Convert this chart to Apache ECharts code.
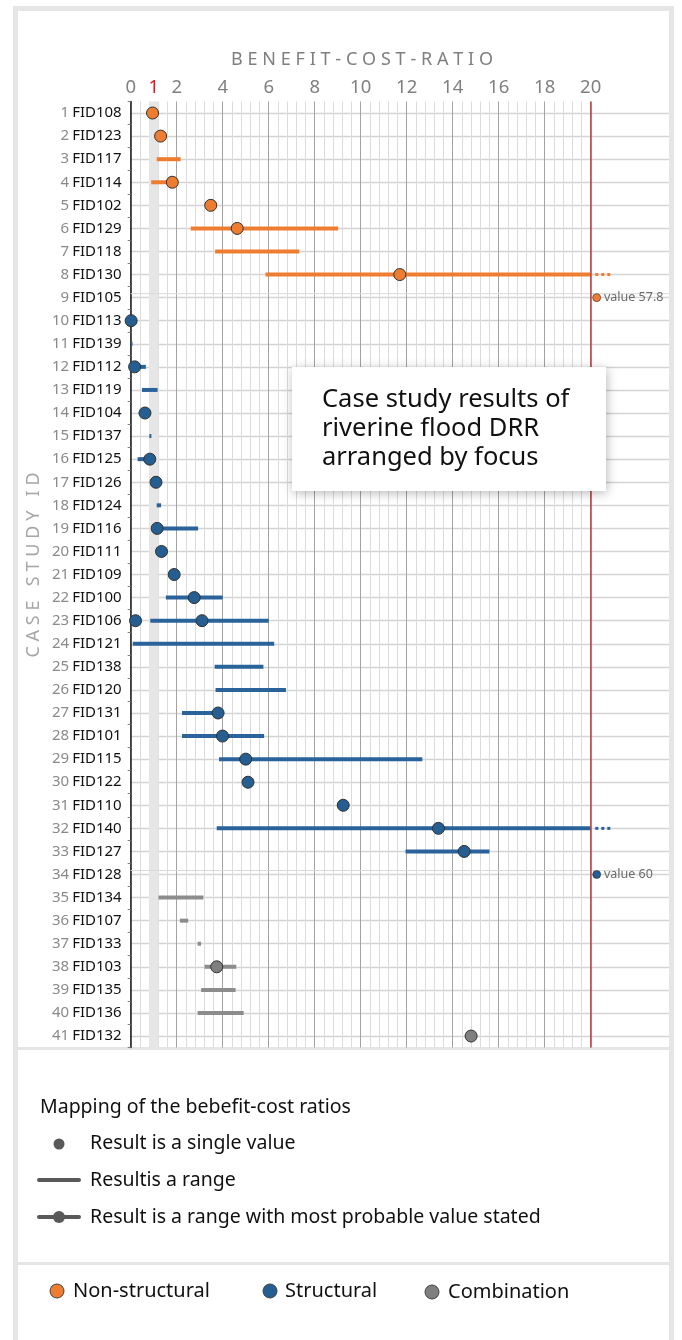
<!DOCTYPE html>
<html>
<head>
<meta charset="utf-8">
<script src="https://cdn.jsdelivr.net/npm/echarts@6.0.0/dist/echarts.min.js"></script>
<style>
html,body{margin:0;padding:0;background:#fff;}
#chart{width:682px;height:1340px;}
</style>
</head>
<body>
<div id="chart"></div>
<script>
// ---------------- DATA ----------------
const categories = ['FID108','FID123','FID117','FID114','FID102','FID129','FID118','FID130','FID105',
  'FID113','FID139','FID112','FID119','FID104','FID137','FID125','FID126','FID124','FID116','FID111',
  'FID109','FID100','FID106','FID121','FID138','FID120','FID131','FID101','FID115','FID122','FID110',
  'FID140','FID127','FID128','FID134','FID107','FID133','FID103','FID135','FID136','FID132'];
// N = Non-structural, S = Structural, C = Combination
const focus = ['N','N','N','N','N','N','N','N','N',
  'S','S','S','S','S','S','S','S','S','S','S','S','S','S','S','S','S','S','S','S','S','S','S','S','S',
  'C','C','C','C','C','C','C'];
const rangeLow  = [null,null,1.13,0.89,null,2.61,3.67,5.86,null,
  null,0.02,0.10,0.49,null,0.81,0.30,null,1.13,1.15,null,null,1.53,0.85,0.09,3.65,3.69,2.23,2.23,3.84,null,null,3.74,11.95,null,
  1.21,2.14,2.91,3.21,3.06,2.91,null];
const rangeHigh = [null,null,2.17,1.81,null,9.02,7.33,20,null,
  null,0.08,0.66,1.17,null,0.90,0.85,null,1.32,2.93,null,null,4.00,6.00,6.24,5.77,6.75,3.80,5.80,12.68,null,null,20,15.60,null,
  3.16,2.50,3.06,4.59,4.56,4.91,null];
const bestValue = [0.95,1.30,null,1.81,3.48,4.63,null,11.70,57.8,
  0.02,null,0.17,null,0.62,null,0.83,1.10,null,1.15,1.34,1.89,2.76,3.10,null,null,null,3.80,3.99,5.00,5.10,9.24,13.38,14.50,60,
  null,null,null,3.74,null,null,14.80];
const extraValue = {FID106: 0.21};
const openEndedRows = ['FID130','FID140'];
const xTicks = [0,2,4,6,8,10,12,14,16,18,20];
const axisCap = 20;
const breakEvenBand = [0.8, 1.2];
const focusNames = {N:'Non-structural', S:'Structural', C:'Combination'};

// ---------------- STYLE ----------------
const dotColor  = {N:'#ED7D31', S:'#255E91', C:'#7F7F7F'};
const lineColor = {N:'#ED7D31', S:'#2A629A', C:'#8C8C8C'};
const FONT = 'Noto Sans';
const pxPerUnit = 23;
const plotLeft = 130.7, plotTop = 101.5, plotRight = 669, rowH = 23.075;
const plotH = rowH * categories.length;
const xMaxFull = (plotRight - plotLeft) / pxPerUnit;
const offscaleX = axisCap + 0.26;
const spaced = (s, sp) => s.split('').join(sp);
const noShadow = {shadowBlur:0, shadowColor:'rgba(0,0,0,0)', shadowOffsetX:0, shadowOffsetY:0};

// build series data
const rangeData = [];
const pointData = [];
const offData = [];
const breakRows = [];
categories.forEach((c, i) => {
  const t = focus[i];
  if (rangeLow[i] !== null) {
    rangeData.push([rangeLow[i], rangeHigh[i], i, t, openEndedRows.includes(c) ? 1 : 0]);
  }
  if (bestValue[i] !== null) {
    if (bestValue[i] > axisCap) { offData.push([offscaleX, i, t, bestValue[i]]); breakRows.push([0, i]); }
    else pointData.push([bestValue[i], i, t]);
  }
  if (extraValue[c] !== undefined) pointData.push([extraValue[c], i - 0.12, t]);
});

const chart = echarts.init(document.getElementById('chart'), null, {renderer:'canvas'});

const txt = (x, y, text, size, color, extra) => Object.assign({type:'text', x, y, silent:true,
  style:Object.assign({text, fill:color, fontSize:size, fontFamily:FONT, verticalAlign:'middle'}, noShadow)}, extra || {});

const option = {
  animation: false,
  textStyle: {fontFamily: FONT},
  grid: [
    {left: plotLeft, top: plotTop, width: plotRight - plotLeft, height: plotH},
    {left: plotLeft, top: plotTop, width: axisCap * pxPerUnit, height: plotH},
    {left: plotLeft, top: plotTop + rowH/2, width: plotRight - plotLeft, height: plotH - rowH}
  ],
  xAxis: [
    {gridIndex:0, type:'value', min:0, max:xMaxFull, show:false},
    {gridIndex:1, type:'value', min:0, max:axisCap, interval:2, position:'top',
      axisLine:{show:false}, axisTick:{show:false},
      axisLabel:{color:'#808080', fontSize:18.5, margin:4,
        formatter: v => xTicks.includes(v) ? String(v) : ''},
      splitLine:{show:true, lineStyle:{color:'#a3a3a3', width:1}},
      minorTick:{show:false, splitNumber:5},
      minorSplitLine:{show:true, lineStyle:{color:'#dcdcdc', width:1}}
    },
    {gridIndex:1, type:'value', min:0, max:axisCap, interval:1, position:'top',
      axisLine:{show:false}, axisTick:{show:false}, splitLine:{show:false},
      axisLabel:{color:'#E8161B', fontSize:18.5, margin:4,
        formatter: v => v === 1 ? '1' : ''}
    },
    {gridIndex:2, type:'value', min:0, max:1, show:false}
  ],
  yAxis: [
    {gridIndex:0, type:'category', data:categories, inverse:true, boundaryGap:true,
      axisLine:{show:true, lineStyle:{color:'#1a1a1a', width:1.5}},
      axisTick:{show:true, length:3, lineStyle:{color:'#7f7f7f'}},
      splitLine:{show:false},
      axisLabel:{margin:9, formatter:(v, i) => '{n|' + (i+1) + '}{f|' + v + '}',
        rich:{n:{color:'#8a8a8a', fontSize:15, fontFamily:FONT, padding:[0,3,0,0]},
              f:{color:'#111', fontSize:15, fontFamily:FONT}}}
    },
    {gridIndex:1, type:'category', data:categories, inverse:true, show:false},
    {gridIndex:2, type:'category', data:categories, inverse:true, boundaryGap:false,
      axisLine:{show:false}, axisTick:{show:false}, axisLabel:{show:false},
      splitLine:{show:true, lineStyle:{color:'#d4d4d4', width:1.3}}}
  ],
  series: [
    {
      type:'scatter', xAxisIndex:0, yAxisIndex:0, data:[], z:-5, silent:true,
      markArea:{silent:true, itemStyle:{color:'#e6e6e6'},
        data:[[{xAxis:breakEvenBand[0]},{xAxis:breakEvenBand[1]}]]}
    },
    {
      // break indicator lines for off-scale rows
      type:'custom', xAxisIndex:0, yAxisIndex:0, z:1, silent:true,
      data: breakRows,
      encode:{x:0, y:1},
      renderItem:(params, api) => {
        const r = breakRows[params.dataIndex];
        const p0 = api.coord([0, r[1]]);
        const p1 = api.coord([xMaxFull, r[1]]);
        return {type:'line', shape:{x1:p0[0], y1:p0[1]-4, x2:p1[0], y2:p1[1]-4},
          style:{stroke:'#dadada', lineWidth:1}};
      }
    },
    {
      name:'ranges', type:'custom', xAxisIndex:0, yAxisIndex:0, z:3,
      data: rangeData,
      encode:{x:[0,1], y:2},
      renderItem:(params, api) => {
        const d = rangeData[params.dataIndex];
        const a = api.coord([d[0], d[2]]);
        const b = api.coord([d[1], d[2]]);
        const children = [{type:'line', shape:{x1:a[0], y1:a[1], x2:b[0], y2:b[1]},
          style:{stroke:lineColor[d[3]], lineWidth:4, lineCap:'butt'}}];
        if (d[4]) {
          const c1 = api.coord([axisCap + 0.2, d[2]]);
          const c2 = api.coord([axisCap + 0.9, d[2]]);
          children.push({type:'line', shape:{x1:c1[0], y1:c1[1], x2:c2[0], y2:c2[1]},
            style:{stroke:lineColor[d[3]], lineWidth:3, lineDash:[3,3]}});
        }
        return {type:'group', children};
      }
    },
    {
      name:'points', type:'scatter', xAxisIndex:0, yAxisIndex:0, z:4,
      symbolSize:12,
      data: pointData,
      itemStyle:{color: p => dotColor[p.data[2]], borderColor:'#303030', borderWidth:1, opacity:1},
      markLine:{silent:true, symbol:'none', label:{show:false},
        lineStyle:{color:'#C8383C', width:1.5, type:'solid'},
        data:[{xAxis:axisCap}]}
    },
    {
      name:'offscale', type:'scatter', xAxisIndex:0, yAxisIndex:0, z:4,
      symbolSize:8,
      data: offData,
      itemStyle:{color: p => dotColor[p.data[2]], borderColor:'#303030', borderWidth:0.6, opacity:1},
      label:{show:true, position:'right', distance:3, color:'#6b6b6b', fontSize:12.5, fontFamily:FONT,
        formatter: p => 'value ' + p.data[3]}
    }
  ],
  graphic: [
    // frame
    {type:'rect', shape:{x:13, y:6, width:5, height:1334}, style:{fill:'#e5e5e5'}, silent:true},
    {type:'rect', shape:{x:669, y:6, width:5, height:1334}, style:{fill:'#e5e5e5'}, silent:true},
    {type:'rect', shape:{x:13, y:6, width:661, height:5}, style:{fill:'#e5e5e5'}, silent:true},
    {type:'rect', shape:{x:18, y:1047, width:651, height:3}, style:{fill:'#e5e5e5'}, silent:true},
    {type:'rect', shape:{x:18, y:1262, width:651, height:3}, style:{fill:'#e5e5e5'}, silent:true},
    // axis titles
    txt(362, 60, spaced('BENEFIT-COST-RATIO','\u2009\u200A'), 18, '#7f7f7f', {style:Object.assign({text:spaced('BENEFIT-COST-RATIO','\u2009\u200A'), fill:'#7f7f7f', fontSize:18, fontFamily:FONT, align:'center', verticalAlign:'middle'}, noShadow)}),
    {type:'text', x:34, y:565, rotation:Math.PI/2, silent:true,
      style:Object.assign({text:spaced('CASE STUDY ID','\u2009\u200A'), fill:'#a6a6a6',
      fontSize:18, fontFamily:FONT, align:'center', verticalAlign:'middle'}, noShadow)},
    // annotation box
    {type:'rect', silent:true, z:50, shape:{x:292, y:367, width:314, height:124},
      style:{fill:'#fff', shadowBlur:10, shadowColor:'rgba(0,0,0,0.28)', shadowOffsetX:1, shadowOffsetY:2}},
    {type:'text', silent:true, z:51, x:322, y:385,
      style:Object.assign({text:'Case study results of\nriverine flood DRR\narranged by focus',
        fill:'#111', fontSize:25.5, lineHeight:29, fontFamily:FONT, verticalAlign:'top'}, noShadow)},
    // mapping legend
    txt(40, 1107, 'Mapping of the bebefit-cost ratios', 19.5, '#111'),
    {type:'circle', shape:{cx:59, cy:1144, r:5.5}, style:{fill:'#595959'}},
    txt(90, 1143, 'Result is a single value', 19.5, '#111'),
    {type:'line', shape:{x1:39, y1:1180, x2:79, y2:1180}, style:{stroke:'#595959', lineWidth:4, lineCap:'round'}},
    txt(90, 1180, 'Resultis a range', 19.5, '#111'),
    {type:'line', shape:{x1:39, y1:1217, x2:79, y2:1217}, style:{stroke:'#595959', lineWidth:4, lineCap:'round'}},
    {type:'circle', shape:{cx:59, cy:1217, r:6}, style:{fill:'#595959'}},
    txt(90, 1217, 'Result is a range with most probable value stated', 19.5, '#111'),
    // focus legend
    {type:'circle', shape:{cx:57, cy:1291, r:7}, style:{fill:dotColor.N, stroke:'#404040', lineWidth:1}},
    txt(73, 1291, focusNames.N, 20, '#111'),
    {type:'circle', shape:{cx:270, cy:1291, r:7}, style:{fill:dotColor.S, stroke:'#404040', lineWidth:1}},
    txt(285, 1291, focusNames.S, 20, '#111'),
    {type:'circle', shape:{cx:432, cy:1292, r:7}, style:{fill:dotColor.C, stroke:'#404040', lineWidth:1}},
    txt(448, 1292, focusNames.C, 20, '#111')
  ]
};
chart.setOption(option);
</script>
</body>
</html>
